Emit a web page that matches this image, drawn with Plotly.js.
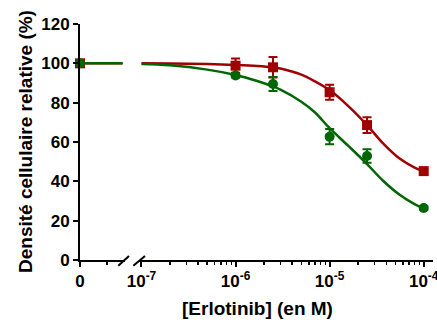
<!DOCTYPE html>
<html>
<head>
<meta charset="utf-8">
<script src="https://cdn.plot.ly/plotly-3.0.1.min.js"></script>
<style>html,body{margin:0;padding:0;background:#fff;}#chart{width:437px;height:322px;}</style>
</head>
<body>
<div id="chart"></div>
<script>
// ---- data ----
const zeroDose = [0];
const redZero = [100];
const greenZero = [100];
const zeroLineX = [0, 1.6];
const redZeroLine = [100, 100];
const greenZeroLine = [100, 100];

const conc = [1e-6, 2.5e-6, 1e-5, 2.5e-5, 1e-4];
const redVals = [98.8, 98.0, 85.3, 68.6, 45.2];
const redErr = [3.6, 5.2, 3.8, 4.0, 1.0];
const greenVals = [93.8, 89.5, 62.7, 52.9, 26.4];
const greenErr = [1.0, 3.6, 3.9, 3.4, 1.0];

const curveConc = [1e-7, 2e-7, 5e-7, 1e-6, 1.7e-6, 2.5e-6, 3e-6, 5e-6, 7e-6, 1e-5, 1.6e-5, 2.5e-5, 3.7e-5, 5.5e-5, 8e-5, 1e-4];
const redCurve = [100, 99.9, 99.6, 99.2, 98.7, 98.0, 97.4, 94.3, 90.8, 86.4, 78.0, 68.6, 59.3, 51.7, 47.0, 45.2];
const greenCurve = [99.7, 99.0, 96.8, 94.1, 91.0, 88.2, 86.6, 80.5, 75.0, 67.0, 57.8, 48.8, 40.3, 33.3, 28.4, 26.3];

const yTicks = [0, 20, 40, 60, 80, 100, 120];
const logTickVals = [1e-7, 1e-6, 1e-5, 1e-4];
const logTickText = ['10<sup>-7</sup>', '10<sup>-6</sup>', '10<sup>-5</sup>', '10<sup>-4</sup>'];

// ---- styles ----
const RED = '#a00000';
const GREEN = '#006600';
const FONT = 'Liberation Sans, Arial, Helvetica, sans-serif';
const W = 437, H = 322;
const L = 80, R = 4, T = 24, B = 62;
const PW = W - L - R, PH = H - T - B;
const px = v => (v - L) / PW;          // pixel x -> paper
const py = v => (H - B - v) / PH;      // pixel y -> paper

const lineStyle = c => ({color: c, width: 2.5, shape: 'spline', smoothing: 1});

const traces = [
  {x: zeroLineX, y: redZeroLine, xaxis: 'x', yaxis: 'y', mode: 'lines', line: {color: RED, width: 2.5}, cliponaxis: false},
  {x: zeroLineX, y: greenZeroLine, xaxis: 'x', yaxis: 'y', mode: 'lines', line: {color: GREEN, width: 2.5}, cliponaxis: false},
  {x: curveConc, y: redCurve, xaxis: 'x2', yaxis: 'y', mode: 'lines', line: lineStyle(RED), cliponaxis: false},
  {x: curveConc, y: greenCurve, xaxis: 'x2', yaxis: 'y', mode: 'lines', line: lineStyle(GREEN), cliponaxis: false},
  {x: zeroDose, y: redZero, xaxis: 'x', yaxis: 'y', mode: 'markers', marker: {symbol: 'square', size: 10, color: RED}, cliponaxis: false},
  {x: conc, y: redVals, xaxis: 'x2', yaxis: 'y', mode: 'markers', marker: {symbol: 'square', size: 10, color: RED},
   error_y: {type: 'data', array: redErr, visible: true, color: RED, thickness: 2, width: 4.5}, cliponaxis: false},
  {x: zeroDose, y: greenZero, xaxis: 'x', yaxis: 'y', mode: 'markers', marker: {symbol: 'circle', size: 10, color: GREEN}, cliponaxis: false},
  {x: conc, y: greenVals, xaxis: 'x2', yaxis: 'y', mode: 'markers', marker: {symbol: 'circle', size: 10, color: GREEN},
   error_y: {type: 'data', array: greenErr, visible: true, color: GREEN, thickness: 2, width: 4.5}, cliponaxis: false}
];

const tickFont = {family: FONT, size: 17, color: '#000', weight: 'bold'};

const layout = {
  width: W, height: H,
  margin: {l: L, r: R, t: T, b: B, pad: 0},
  paper_bgcolor: '#fff', plot_bgcolor: '#fff',
  showlegend: false,
  font: {family: FONT, color: '#000'},
  xaxis: {
    domain: [0, px(125)], anchor: 'y', range: [0, 1.69],
    showline: true, linewidth: 2, linecolor: '#000', showgrid: false, zeroline: false,
    tickmode: 'array', tickvals: zeroDose, ticktext: ['0'],
    ticks: 'outside', ticklen: 5, tickwidth: 2, tickcolor: '#000', tickfont: tickFont,
    ticklabeloverflow: 'allow',
    minor: {tickmode: 'array', tickvals: [1], ticks: 'outside', ticklen: 3, tickwidth: 2, tickcolor: '#000', showgrid: false}
  },
  xaxis2: {
    type: 'log', domain: [px(139), 1], anchor: 'y', range: [-7.0265, -3.901],
    showline: true, linewidth: 2, linecolor: '#000', showgrid: false, zeroline: false,
    tickmode: 'array', tickvals: logTickVals, ticktext: logTickText,
    ticks: 'outside', ticklen: 5, tickwidth: 2, tickcolor: '#000', tickfont: tickFont,
    ticklabeloverflow: 'allow',
    minor: {dtick: 'D1', ticks: 'outside', ticklen: 3, tickwidth: 1.5, tickcolor: '#000', showgrid: false}
  },
  yaxis: {
    domain: [0, 1], anchor: 'x', range: [0, 120],
    showline: true, linewidth: 2, linecolor: '#000', showgrid: false, zeroline: false,
    tickmode: 'array', tickvals: yTicks,
    ticks: 'outside', ticklen: 5, tickwidth: 2, tickcolor: '#000', tickfont: tickFont
  },
  shapes: [
    {type: 'line', xref: 'paper', yref: 'paper', x0: px(118.3), y0: py(265.7), x1: px(129), y1: py(256), line: {color: '#000', width: 2}},
    {type: 'line', xref: 'paper', yref: 'paper', x0: px(133.3), y0: py(265.7), x1: px(145), y1: py(256), line: {color: '#000', width: 2}}
  ],
  annotations: [
    {text: '[Erlotinib] (en M)', xref: 'paper', yref: 'paper', x: px(257.5), y: py(308), xanchor: 'center', yanchor: 'middle',
     showarrow: false, font: {family: FONT, size: 19, color: '#000', weight: 'bold'}},
    {text: 'Densité cellulaire relative (%)', xref: 'paper', yref: 'paper', x: px(25), y: py(142), xanchor: 'center', yanchor: 'middle',
     textangle: -90, showarrow: false, font: {family: FONT, size: 19, color: '#000', weight: 'bold'}}
  ]
};

Plotly.newPlot('chart', traces, layout, {staticPlot: true, displayModeBar: false});
</script>
</body>
</html>
